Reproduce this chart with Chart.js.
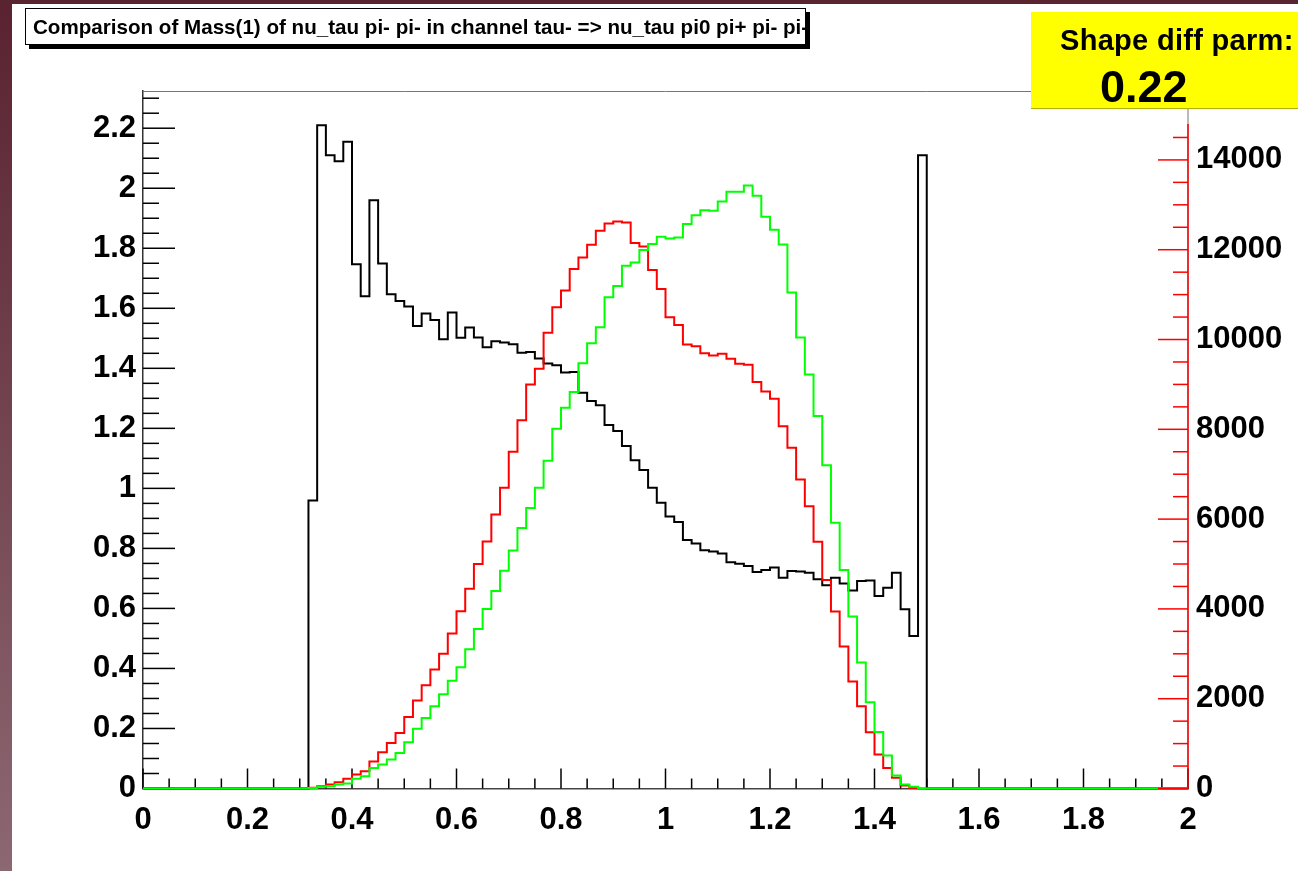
<!DOCTYPE html>
<html>
<head>
<meta charset="utf-8">
<title>Comparison of Mass(1) of nu_tau pi- pi-</title>
<script src="https://cdn.jsdelivr.net/npm/chart.js@4.4.1/dist/chart.umd.min.js"></script>
<style>
  body { margin: 0; background: #fff; font-family: "Liberation Sans", Arial, sans-serif; }
  #wrap { position: relative; width: 1298px; height: 871px; overflow: hidden; }
  #plot { position: absolute; left: 0; top: 0; }
  #edgeLeft { position: absolute; left: 0; top: 0; width: 12px; height: 871px; background: linear-gradient(#5a2230, #8c6872); }
  #edgeTop { position: absolute; left: 0; top: 0; width: 1298px; height: 4px; background: #5a2330; }
  #titleBox {
    position: absolute; left: 25px; top: 8px; width: 781px; height: 37px;
    border: 1px solid #000; background: #fff; box-shadow: 4px 4px 0 #000;
    font-weight: bold; font-size: 20.6px; line-height: 36px;
    white-space: nowrap; overflow: hidden; padding-left: 7px; box-sizing: border-box;
  }
  #diffBox {
    position: absolute; left: 1031px; top: 12px; width: 267px; height: 96px;
    background: #ffff00; border-bottom: 1px solid #b0b000;
  }
  #diffBox span { position: absolute; font-weight: bold; white-space: nowrap; line-height: 1; }
  #diffLabel { left: 29px; top: 14px; font-size: 29px; letter-spacing: 0.3px; }
  #diffValue { left: 69px; top: 52px; font-size: 45px; }
</style>
</head>
<body>
<div id="wrap">
  <canvas id="plot" width="1298" height="871"></canvas>
  <div id="edgeLeft"></div>
  <div id="edgeTop"></div>
  <div id="titleBox">Comparison of Mass(1) of nu_tau pi- pi- in channel tau- =&gt; nu_tau pi0 pi+ pi- pi-</div>
  <div id="diffBox"><span id="diffLabel">Shape diff parm:</span><span id="diffValue">0.22</span></div>
</div>
<script>
// binning of the histograms
var nBins = 120;
var xMin = 0;
var xMax = 2;
var firstBin = 19;   // first filled bin (x = 0.3167)

// black: ratio, left axis
var ratioValues = [
  0.96, 2.21, 2.11, 2.09, 2.155, 1.747, 1.64, 1.96, 1.749, 1.647,
  1.624, 1.606, 1.541, 1.583, 1.561, 1.497, 1.586, 1.502, 1.536, 1.503,
  1.47, 1.49, 1.486, 1.48, 1.452, 1.454, 1.433, 1.416, 1.41, 1.386,
  1.388, 1.319, 1.291, 1.277, 1.211, 1.191, 1.141, 1.094, 1.061, 1.002,
  0.952, 0.906, 0.888, 0.828, 0.816, 0.794, 0.79, 0.783, 0.754, 0.749,
  0.741, 0.721, 0.728, 0.736, 0.702, 0.725, 0.723, 0.719, 0.697, 0.677,
  0.702, 0.683, 0.66, 0.691, 0.693, 0.641, 0.669, 0.719, 0.597, 0.508,
  2.11
];

// red: right axis
var redValues = [
  15, 52, 89, 141, 215, 311, 385, 600, 807, 1015,
  1237, 1593, 1960, 2300, 2650, 3000, 3450, 3950, 4450, 5000,
  5500, 6100, 6700, 7500, 8200, 9000, 9348, 10148, 10718, 11089,
  11570, 11829, 12111, 12422, 12585, 12630, 12607, 12148, 12074, 11548,
  11126, 10496, 10326, 9889, 9852, 9696, 9644, 9682, 9570, 9459,
  9437, 9051, 8844, 8681, 8067, 7590, 6882, 6289, 5496, 4644,
  3941, 3163, 2385, 1830, 1252, 756, 459, 237, 67, 10
];

// green: right axis
var greenValues = [
  10, 40, 52, 89, 111, 215, 274, 459, 533, 644,
  793, 1030, 1333, 1570, 1830, 2100, 2400, 2700, 3100, 3550,
  4000, 4400, 4850, 5300, 5800, 6250, 6700, 7300, 8015, 8481,
  8830, 9474, 9919, 10274, 10940, 11192, 11644, 11718, 11993, 12126,
  12289, 12252, 12274, 12570, 12770, 12881, 12867, 13074, 13290, 13290,
  13430, 13200, 12737, 12444, 12118, 11045, 10045, 9222, 8296, 7200,
  5919, 4867, 3830, 2807, 1919, 1259, 733, 289, 89, 37
];

// axes: ranges and tick labels
var leftMax = 2.324;
var rightMax = 15535;
var rightAxisEnd = 14800;
var xTickLabels = [0, 0.2, 0.4, 0.6, 0.8, 1, 1.2, 1.4, 1.6, 1.8, 2];
var leftTickLabels = [0, 0.2, 0.4, 0.6, 0.8, 1, 1.2, 1.4, 1.6, 1.8, 2, 2.2];
var rightTickLabels = [0, 2000, 4000, 6000, 8000, 10000, 12000, 14000];
var xMinorStep = 0.05, leftMinorStep = 0.05, rightMinorStep = 500;
var leftMinorEnd = 2.3, rightMinorEnd = 14500;

// bin contents -> step points at the bin edges
// (stepped 'before': the value of point k is drawn from x_k to x_k+1)
function histPoints(values, start) {
  var w = (xMax - xMin) / nBins;
  var pts = [];
  for (var k = 0; k <= nBins; k++) {
    var i = k - start;
    var v = (i >= 0 && i < values.length) ? values[i] : 0;
    pts.push({ x: xMin + k * w, y: v });
  }
  return pts;
}

function fmt(v) {
  return String(Math.round(v * 100) / 100);
}

function fixedTicks(list) {
  return function (scale) {
    scale.ticks = list.map(function (v) { return { value: v }; });
  };
}

var labelFont = { family: 'Liberation Sans', weight: 'bold', size: 31 };

// ROOT style ticks pointing into the frame
var frameTicks = {
  id: 'frameTicks',
  beforeDatasetsDraw: function (chart) {
    var ctx = chart.ctx, a = chart.chartArea, s = chart.scales;
    function seg(x1, y1, x2, y2) {
      ctx.beginPath(); ctx.moveTo(x1, y1); ctx.lineTo(x2, y2); ctx.stroke();
    }
    ctx.save();
    ctx.strokeStyle = '#777';
    ctx.lineWidth = 1;
    seg(a.left, a.top + 0.5, a.right, a.top + 0.5);
    seg(a.right, a.top, a.right, a.bottom);

    ctx.strokeStyle = '#000';
    ctx.lineWidth = 1.5;
    var n = Math.round((xMax - xMin) / xMinorStep);
    for (var i = 0; i <= n; i++) {
      var px = s.x.getPixelForValue(xMin + i * xMinorStep);
      var len = (i % 4 === 0) ? 20 : 10;
      seg(px, a.bottom, px, a.bottom - len);
    }
    n = Math.round(leftMinorEnd / leftMinorStep);
    for (i = 0; i <= n; i++) {
      var py = s.y.getPixelForValue(i * leftMinorStep);
      len = (i % 4 === 0) ? 32 : 16;
      seg(a.left, py, a.left + len, py);
    }
    ctx.restore();
  },
  afterDatasetsDraw: function (chart) {
    var ctx = chart.ctx, a = chart.chartArea, y2 = chart.scales.y2;
    ctx.save();
    ctx.strokeStyle = '#ff0000';
    ctx.lineWidth = 1.5;
    ctx.beginPath();
    ctx.moveTo(a.right, y2.getPixelForValue(0));
    ctx.lineTo(a.right, y2.getPixelForValue(rightAxisEnd));
    ctx.stroke();
    var n = Math.round(rightMinorEnd / rightMinorStep);
    for (var i = 0; i <= n; i++) {
      var py = y2.getPixelForValue(i * rightMinorStep);
      var len = (i % 4 === 0) ? 30 : 15;
      ctx.beginPath(); ctx.moveTo(a.right, py); ctx.lineTo(a.right - len, py); ctx.stroke();
    }
    ctx.restore();
  }
};

var ctx = document.getElementById('plot').getContext('2d');
var chart = new Chart(ctx, {
  type: 'line',
  data: {
    datasets: [
      { label: 'green', data: histPoints(greenValues, firstBin), yAxisID: 'y2', borderColor: '#00ff00', order: 0 },
      { label: 'red', data: histPoints(redValues, firstBin), yAxisID: 'y2', borderColor: '#ff0000', order: 1 },
      { label: 'ratio', data: histPoints(ratioValues, firstBin), yAxisID: 'y', borderColor: '#000000', order: 2 }
    ]
  },
  options: {
    responsive: false,
    animation: false,
    devicePixelRatio: 1,
    layout: { padding: { top: 91, left: 0, right: 0, bottom: 0 } },
    datasets: {
      line: { stepped: 'before', borderWidth: 2, pointRadius: 0, fill: false, tension: 0, clip: false }
    },
    plugins: { legend: { display: false }, tooltip: { enabled: false }, title: { display: false } },
    scales: {
      x: {
        type: 'linear', min: xMin, max: xMax, position: 'bottom',
        grid: { display: false, drawTicks: false },
        border: { display: true, color: '#444', width: 1.5 },
        ticks: { color: '#000', font: labelFont, padding: 13, maxRotation: 0, autoSkip: false, callback: fmt },
        afterBuildTicks: fixedTicks(xTickLabels),
        afterFit: function (scale) { scale.height = 82.5; }
      },
      y: {
        type: 'linear', min: 0, max: leftMax, position: 'left',
        grid: { display: false, drawTicks: false },
        border: { display: true, color: '#333', width: 1.5 },
        ticks: { color: '#000', font: labelFont, padding: 7, autoSkip: false, callback: fmt },
        afterBuildTicks: fixedTicks(leftTickLabels),
        afterFit: function (scale) { scale.width = 143; }
      },
      y2: {
        type: 'linear', min: 0, max: rightMax, position: 'right',
        grid: { display: false, drawTicks: false },
        border: { display: false },
        ticks: { color: '#000', font: labelFont, padding: 8, autoSkip: false, callback: function (v) { return String(v); } },
        afterBuildTicks: fixedTicks(rightTickLabels),
        afterFit: function (scale) { scale.width = 110; }
      }
    }
  },
  plugins: [frameTicks]
});
</script>
</body>
</html>
